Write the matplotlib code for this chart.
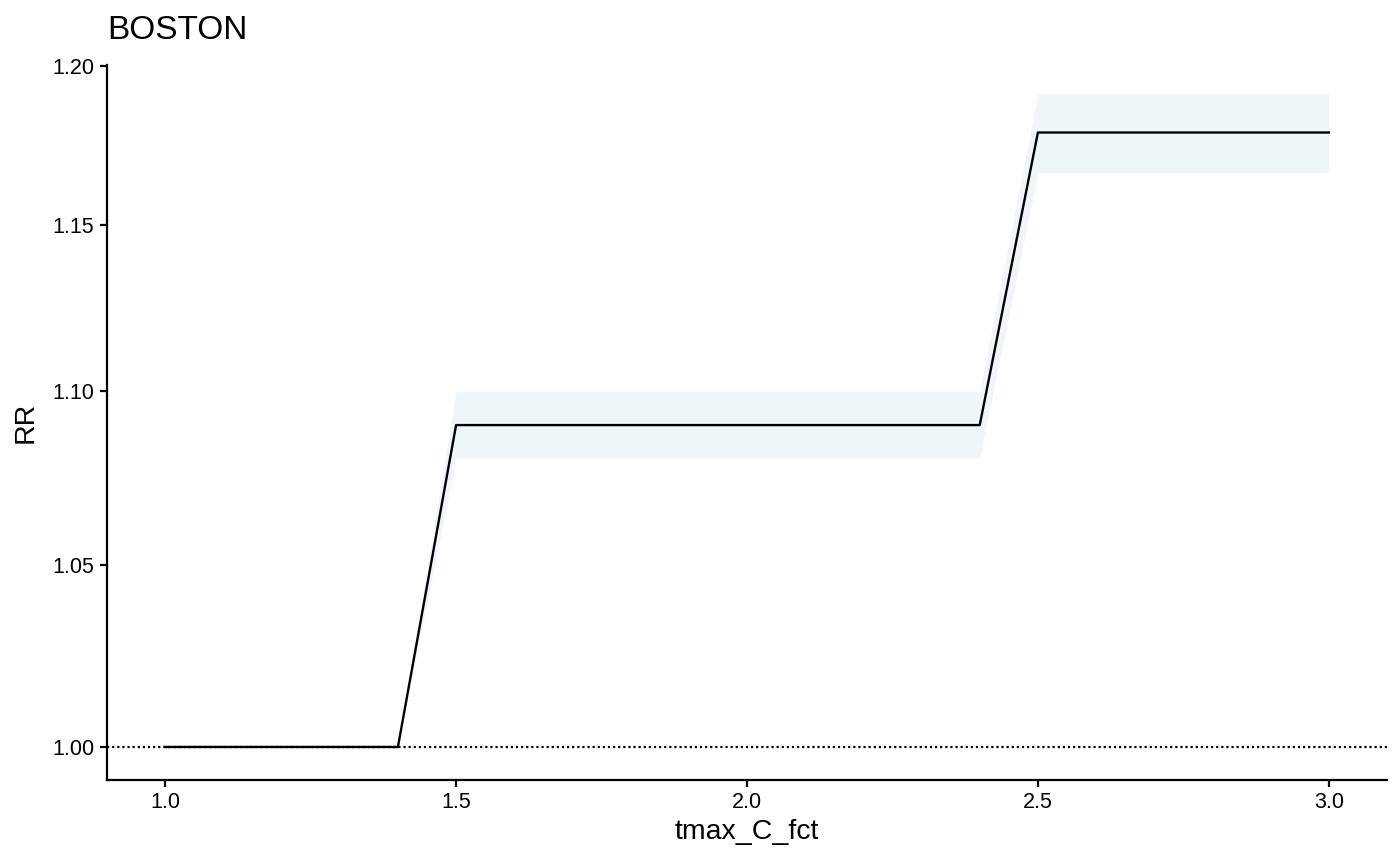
import numpy as np
from matplotlib import pyplot as plt
from matplotlib.ticker import FixedLocator, NullLocator, FixedFormatter

plt.rcParams['font.family'] = ['Liberation Sans', 'DejaVu Sans']

# values (y axis is log scaled)
tmax = [1.0, 1.4, 1.5, 2.4, 2.5, 3.0]
rr = [1.0, 1.0, 1.090, 1.090, 1.1788, 1.1788]
rr_low = [1.0, 1.0, 1.0804, 1.0804, 1.1661, 1.1661]
rr_high = [1.0, 1.0, 1.0998, 1.0998, 1.1911, 1.1911]

x_ticks = [1.0, 1.5, 2.0, 2.5, 3.0]
y_ticks = [1.00, 1.05, 1.10, 1.15, 1.20]

fig = plt.figure(figsize=(14, 8.65), dpi=100)
ax = fig.add_axes([107/1400, 85/865, 1280/1400, 715/865])

ax.fill_between(tmax, rr_low, rr_high, color='#eff6fa', linewidth=0)
ax.plot(tmax, rr, color='black', lw=1.7)
ax.axhline(1.0, color='black', lw=1.6, ls=(0, (1, 1.3)))

ax.set_yscale('log')
ax.set_xlim(0.9, 3.1)
ax.set_ylim(0.9912, 1.2003)
ax.set_xticks(x_ticks)
ax.set_xticklabels(['%.1f' % v for v in x_ticks])
ax.yaxis.set_major_locator(FixedLocator(y_ticks))
ax.yaxis.set_major_formatter(FixedFormatter(['%.2f' % v for v in y_ticks]))
ax.yaxis.set_minor_locator(NullLocator())

for side in ['top', 'right']:
    ax.spines[side].set_visible(False)
for side in ['left', 'bottom']:
    ax.spines[side].set_linewidth(1.6)
ax.tick_params(length=5, width=1.6, labelsize=15.5, colors='black', pad=4)

ax.set_xlabel('tmax_C_fct', fontsize=20.5, labelpad=4)
ax.set_ylabel('RR', fontsize=20.5, labelpad=10)
ax.set_title('BOSTON', loc='left', fontsize=24, pad=19)

fig.savefig('out.png', dpi=100)
